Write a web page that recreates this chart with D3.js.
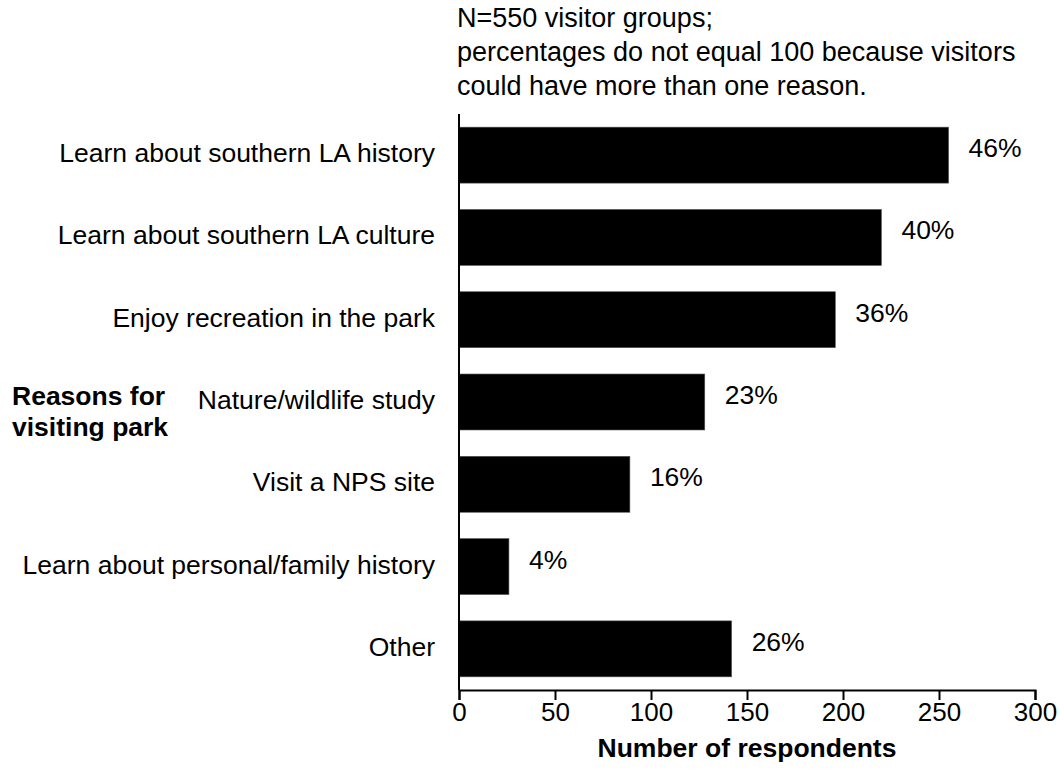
<!DOCTYPE html>
<html>
<head>
<meta charset="utf-8">
<script src="https://cdn.jsdelivr.net/npm/d3@7"></script>
<style>
  html, body { margin: 0; padding: 0; background: #fff; }
  svg { display: block; font-family: 'Liberation Sans', Arial, Helvetica, sans-serif; }
  .tick text { font-size: 26px; fill: #000; }
</style>
</head>
<body>
<div id="chart"></div>
<script>
const reasons = [
  'Learn about southern LA history',
  'Learn about southern LA culture',
  'Enjoy recreation in the park',
  'Nature/wildlife study',
  'Visit a NPS site',
  'Learn about personal/family history',
  'Other'
]
const respondents = [255, 220, 196, 128, 89, 26, 142]
const percentLabels = ['46%', '40%', '36%', '23%', '16%', '4%', '26%']
const xTicks = [0, 50, 100, 150, 200, 250, 300]
const noteLines = [
  'N=550 visitor groups;',
  'percentages do not equal 100 because visitors',
  'could have more than one reason.'
]

const width = 1060
const height = 769
const plot = { left: 459, right: 1035, top: 114, bottom: 690 }
const fontSize = 26.5

const svg = d3.select('#chart')
  .append('svg')
  .attr('width', width)
  .attr('height', height)

const x = d3.scaleLinear()
  .domain([0, 300])
  .range([plot.left, plot.right])

const y = d3.scaleBand()
  .domain(reasons)
  .range([plot.top, plot.bottom])
  .paddingInner(0.32)
  .paddingOuter(0.16)

// bars
svg.selectAll('.bar')
  .data(reasons)
  .join('rect')
  .attr('class', 'bar')
  .attr('x', x(0))
  .attr('y', d => y(d))
  .attr('width', (d, i) => x(respondents[i]) - x(0))
  .attr('height', y.bandwidth())
  .attr('fill', '#000')
  .attr('stroke', '#555')
  .attr('stroke-width', 0.6)

// percent labels
svg.selectAll('.pct')
  .data(reasons)
  .join('text')
  .attr('class', 'pct')
  .attr('x', (d, i) => x(respondents[i]) + 20)
  .attr('y', d => y(d) + y.bandwidth() / 2 - 5)
  .attr('dominant-baseline', 'middle')
  .attr('font-size', fontSize)
  .text((d, i) => percentLabels[i])

// category labels
svg.selectAll('.cat')
  .data(reasons)
  .join('text')
  .attr('class', 'cat')
  .attr('x', plot.left - 24)
  .attr('y', d => y(d) + y.bandwidth() / 2)
  .attr('dominant-baseline', 'middle')
  .attr('text-anchor', 'end')
  .attr('font-size', fontSize)
  .text(d => d)

// x axis
const xAxis = svg.append('g')
  .attr('transform', `translate(0,${plot.bottom})`)
  .call(d3.axisBottom(x).tickValues(xTicks).tickSize(10).tickSizeOuter(10).tickPadding(3))
xAxis.selectAll('path, line').attr('stroke', '#000').attr('stroke-width', 2)

// y axis line
svg.append('line')
  .attr('x1', plot.left).attr('x2', plot.left)
  .attr('y1', plot.top).attr('y2', plot.bottom)
  .attr('stroke', '#000')
  .attr('stroke-width', 2)

svg.append('text')
  .attr('x', (plot.left + plot.right) / 2)
  .attr('y', 757)
  .attr('text-anchor', 'middle')
  .attr('font-size', fontSize)
  .attr('font-weight', 'bold')
  .text('Number of respondents')

svg.append('text')
  .attr('font-size', fontSize)
  .attr('font-weight', 'bold')
  .selectAll('tspan')
  .data(['Reasons for', 'visiting park'])
  .join('tspan')
  .attr('x', 12)
  .attr('y', (d, i) => 405 + i * 31)
  .text(d => d)

svg.append('text')
  .attr('font-size', 27)
  .selectAll('tspan')
  .data(noteLines)
  .join('tspan')
  .attr('x', 457)
  .attr('y', (d, i) => 27 + i * 34)
  .text(d => d)
</script>
</body>
</html>
